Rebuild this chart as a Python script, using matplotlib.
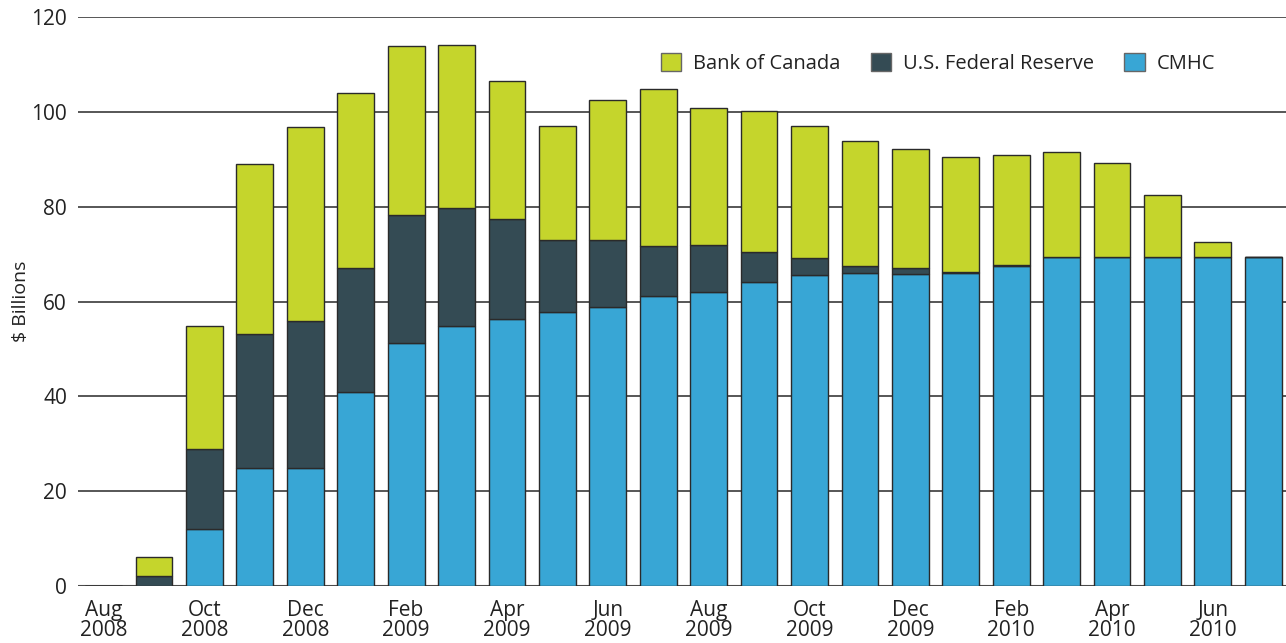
import numpy as np
import matplotlib.pyplot as plt
from matplotlib.patches import Patch

plt.rcParams['font.family'] = ['Open Sans', 'DejaVu Sans']

# months (Aug 2008 - Jul 2010)
months = ["Aug\n2008", "", "Oct\n2008", "", "Dec\n2008", "", "Feb\n2009", "",
          "Apr\n2009", "", "Jun\n2009", "", "Aug\n2009", "", "Oct\n2009", "",
          "Dec\n2009", "", "Feb\n2010", "", "Apr\n2010", "", "Jun\n2010", ""]

# $ billions
cmhc = [0, 0, 12.0, 24.9, 24.9, 41.0, 51.2, 54.8, 56.4, 57.8, 58.8, 61.1,
        62.1, 64.1, 65.5, 66.0, 65.9, 66.1, 67.4, 69.4, 69.4, 69.4, 69.4, 69.4]
fed = [0, 2.1, 16.9, 28.3, 30.9, 26.0, 27.0, 24.9, 20.9, 15.2, 14.1, 10.7,
       9.9, 6.4, 3.6, 1.4, 1.1, 0.2, 0.3, 0, 0, 0, 0, 0]
boc = [0, 4.0, 25.9, 35.7, 40.9, 36.9, 35.6, 34.3, 29.3, 24.0, 29.5, 33.0,
       28.9, 29.7, 28.0, 26.5, 25.2, 24.2, 23.1, 22.1, 19.9, 13.0, 3.1, 0]

c_boc = "#c5d52c"
c_fed = "#344b54"
c_cmhc = "#38a6d5"
edge = "#2a2a2a"

x = np.arange(len(months))
cmhc = np.array(cmhc)
fed = np.array(fed)
boc = np.array(boc)

fig = plt.figure(figsize=(12.86, 6.43), dpi=100)
ax = fig.add_axes([0.0607, 0.0886, 0.9393, 0.885])

w = 0.73
ax.bar(x, cmhc, w, color=c_cmhc, edgecolor=edge, linewidth=1, zorder=3)
ax.bar(x, fed, w, bottom=cmhc, color=c_fed, edgecolor=edge, linewidth=1, zorder=3)
ax.bar(x, boc, w, bottom=cmhc + fed, color=c_boc, edgecolor=edge, linewidth=1, zorder=3)

ax.set_xlim(-0.506, 23.45)
ax.set_ylim(0, 120)
ax.set_yticks(np.arange(0, 121, 20))
ax.yaxis.grid(True, color="#3a3a3a", linewidth=1.2)
ax.set_axisbelow(True)
for s in ax.spines.values():
    s.set_visible(False)
ax.axhline(0, color="#4a4a4a", linewidth=1.5, zorder=2)

ax.set_xticks(x)
ax.set_xticklabels(months, linespacing=0.95)
ax.tick_params(axis="both", length=0, labelsize=15, colors="#222222")
ax.tick_params(axis="y", pad=8)
ax.tick_params(axis="x", pad=10)
ax.set_ylabel("\\$ Billions", fontsize=14, color="#222222")
ax.yaxis.set_label_coords(-0.040, 0.5)

handles = [Patch(facecolor=c_boc, edgecolor="#666666", label="Bank of Canada"),
           Patch(facecolor=c_fed, edgecolor="#666666", label="U.S. Federal Reserve"),
           Patch(facecolor=c_cmhc, edgecolor="#666666", label="CMHC")]
ax.legend(handles=handles, loc="center", bbox_to_anchor=(0.712, 0.919), ncol=3,
          frameon=False, fontsize=14.5, handlelength=1.0, handleheight=1.0,
          columnspacing=1.5, handletextpad=0.6, labelcolor="#222222")

fig.savefig("out.png", dpi=100)
